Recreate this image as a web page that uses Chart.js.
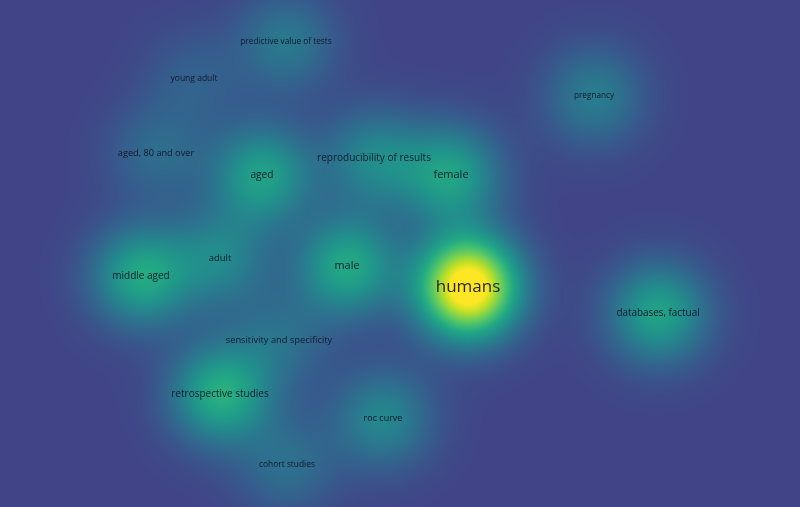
<!DOCTYPE html>
<html>
<head>
<meta charset="utf-8">
<script src="https://cdn.jsdelivr.net/npm/chart.js@4"></script>
<style>
  html, body { margin: 0; padding: 0; background: #443e85; }
  #wrap { width: 800px; height: 507px; }
</style>
</head>
<body>
<div id="wrap"><canvas id="densityChart"></canvas></div>
<script>
// terms of the density map (label centre in map units, density weight, occurrences)
const terms = ['predictive value of tests', 'young adult', 'pregnancy', 'aged, 80 and over',
    'reproducibility of results', 'aged', 'female', 'adult', 'middle aged', 'male', 'humans',
    'databases, factual', 'sensitivity and specificity', 'retrospective studies', 'roc curve',
    'cohort studies'];
const termX = [286, 194, 594, 156, 374, 262, 451, 220, 141, 347, 468, 658, 279, 220, 383, 287];
const termY = [42, 79, 96, 153, 158, 175, 175, 258, 276, 266, 287, 313, 340, 394, 418, 465];
const termWeight = [0.25, 0.13, 0.27, 0.18, 0.32, 0.45, 0.45, 0.3, 0.49, 0.49, 1.12, 0.46, 0.19, 0.52, 0.32, 0.2];
const termOcc = [13, 15, 12, 22, 30, 32, 40, 25, 30, 39, 100, 29, 23, 30, 20, 14];

// viridis colour stops
const viridis = ['#440154', '#482475', '#414487', '#355f8d', '#2a788e', '#21918c',
    '#22a884', '#44bf70', '#7ad151', '#bddf26', '#fde725'];

function hexToRgb(h) {
    return [parseInt(h.slice(1, 3), 16), parseInt(h.slice(3, 5), 16), parseInt(h.slice(5, 7), 16)];
}
const viridisRgb = viridis.map(hexToRgb);

function colorAt(t) {
    t = Math.max(0, Math.min(1, t));
    const p = t * (viridisRgb.length - 1);
    const i = Math.min(Math.floor(p), viridisRgb.length - 2);
    const f = p - i;
    const a = viridisRgb[i], b = viridisRgb[i + 1];
    return [a[0] + (b[0] - a[0]) * f, a[1] + (b[1] - a[1]) * f, a[2] + (b[2] - a[2]) * f];
}

const sigma = 35; // kernel width in pixels

const densityPlugin = {
    id: 'density',
    beforeDatasetsDraw(chart) {
        const meta = chart.getDatasetMeta(0);
        const area = chart.chartArea;
        const w = Math.round(area.right - area.left);
        const h = Math.round(area.bottom - area.top);
        const ctx = chart.ctx;
        const img = ctx.createImageData(w, h);
        const pts = meta.data.map((el, i) => ({ x: el.x - area.left, y: el.y - area.top, wt: termWeight[i] }));
        const s2 = 2 * sigma * sigma;
        for (let y = 0; y < h; y++) {
            for (let x = 0; x < w; x++) {
                let d = 0;
                for (const p of pts) {
                    const dx = x - p.x, dy = y - p.y;
                    const r2 = dx * dx + dy * dy;
                    if (r2 < 20 * s2) d += p.wt * Math.exp(-r2 / s2);
                }
                const c = colorAt(0.2 + 0.8 * d);
                const k = (y * w + x) * 4;
                img.data[k] = c[0];
                img.data[k + 1] = c[1];
                img.data[k + 2] = c[2];
                img.data[k + 3] = 255;
            }
        }
        ctx.putImageData(img, area.left, area.top);
    },
    afterDatasetsDraw(chart) {
        const meta = chart.getDatasetMeta(0);
        const ctx = chart.ctx;
        ctx.save();
        ctx.textAlign = 'center';
        ctx.textBaseline = 'middle';
        ctx.fillStyle = 'rgba(15, 15, 35, 0.9)';
        meta.data.forEach((el, i) => {
            const size = 7 + 0.1 * termOcc[i];
            ctx.font = size.toFixed(1) + 'px "Open Sans"';
            ctx.fillText(terms[i], el.x, el.y);
        });
        ctx.restore();
    }
};

const ctx = document.getElementById('densityChart').getContext('2d');
const myChart = new Chart(ctx, {
    type: 'scatter',
    data: {
        datasets: [{
            data: terms.map((t, i) => ({ x: termX[i], y: termY[i] })),
            pointRadius: 0
        }]
    },
    options: {
        responsive: true,
        maintainAspectRatio: false,
        animation: false,
        layout: { padding: 0 },
        plugins: { legend: { display: false }, tooltip: { enabled: false } },
        scales: {
            x: { display: false, min: 0, max: 800 },
            y: { display: false, min: 0, max: 507, reverse: true }
        }
    },
    plugins: [densityPlugin]
});
</script>
</body>
</html>
